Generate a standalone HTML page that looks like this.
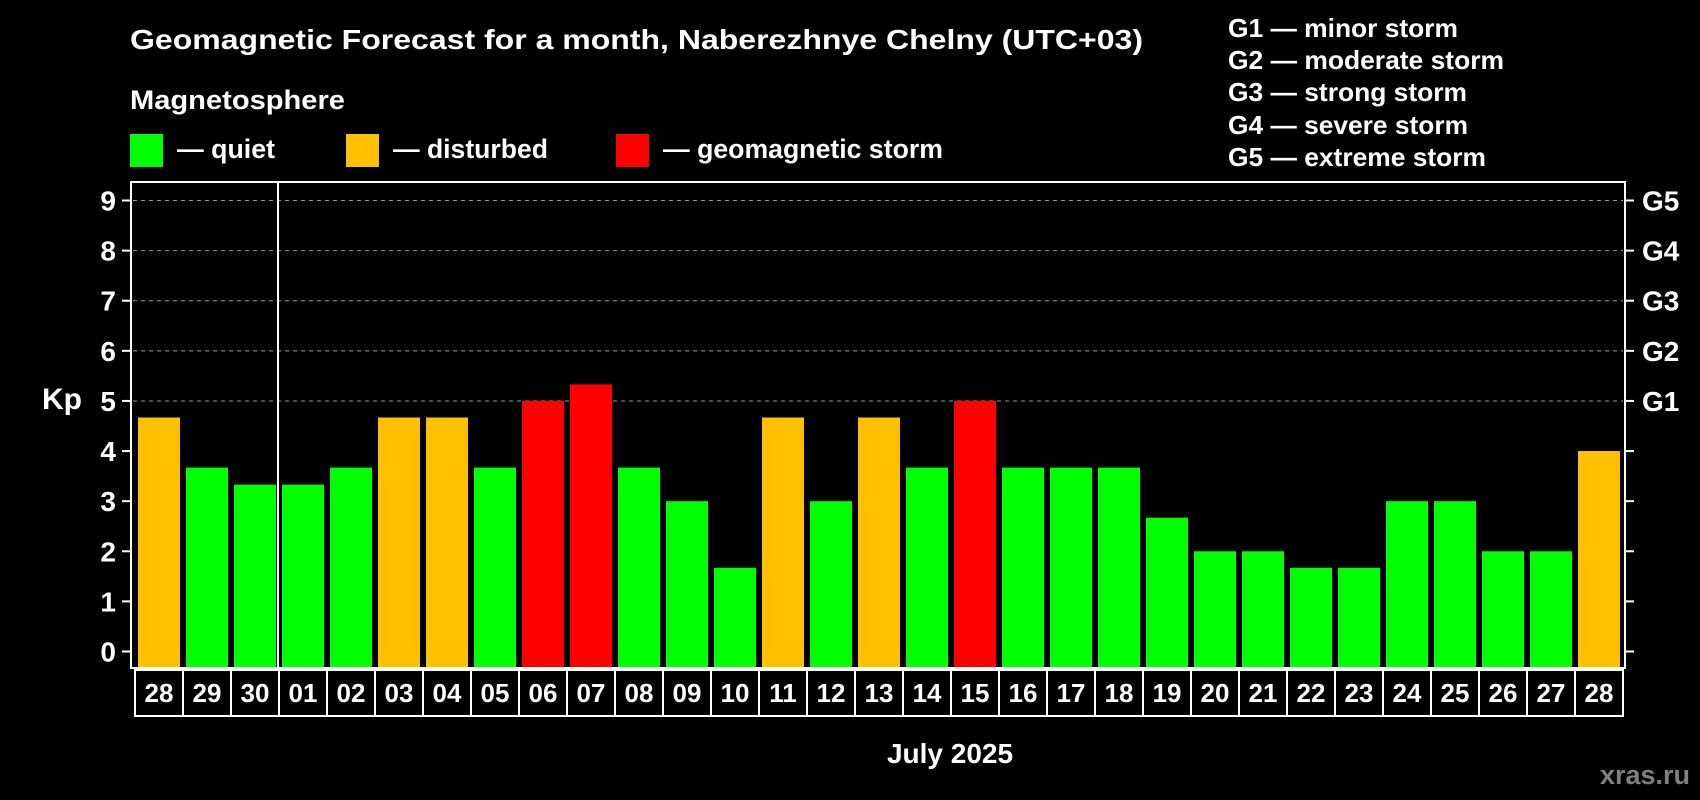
<!DOCTYPE html>
<html><head><meta charset="utf-8"><style>
html,body{margin:0;padding:0;background:#000;}
svg{display:block;font-family:"Liberation Sans",Arial,sans-serif;font-weight:bold;}
</style></head><body>
<svg id="chart" width="1700" height="800" viewBox="0 0 1700 800" xmlns="http://www.w3.org/2000/svg">
<rect width="1700" height="800" fill="#000"/>
<text x="130" y="49" fill="#fff" font-size="28" textLength="1013" lengthAdjust="spacingAndGlyphs">Geomagnetic Forecast for a month, Naberezhnye Chelny (UTC+03)</text>
<text x="130" y="109" fill="#fff" font-size="27" textLength="215" lengthAdjust="spacingAndGlyphs">Magnetosphere</text>
<rect x="130" y="134" width="33" height="33" fill="#00ff00"/>
<text x="177" y="158" fill="#fff" font-size="27" textLength="98" lengthAdjust="spacingAndGlyphs">— quiet</text>
<rect x="346" y="134" width="33" height="33" fill="#ffc000"/>
<text x="393" y="158" fill="#fff" font-size="27" textLength="155" lengthAdjust="spacingAndGlyphs">— disturbed</text>
<rect x="616" y="134" width="33" height="33" fill="#ff0000"/>
<text x="663" y="158" fill="#fff" font-size="27" textLength="280" lengthAdjust="spacingAndGlyphs">— geomagnetic storm</text>
<g fill="#fff" font-size="26">
<text x="1228" y="37" textLength="230" lengthAdjust="spacingAndGlyphs">G1 — minor storm</text>
<text x="1228" y="69" textLength="276" lengthAdjust="spacingAndGlyphs">G2 — moderate storm</text>
<text x="1228" y="101" textLength="239" lengthAdjust="spacingAndGlyphs">G3 — strong storm</text>
<text x="1228" y="134" textLength="240" lengthAdjust="spacingAndGlyphs">G4 — severe storm</text>
<text x="1228" y="166" textLength="258" lengthAdjust="spacingAndGlyphs">G5 — extreme storm</text>
</g>
<text x="42" y="409" fill="#fff" font-size="30">Kp</text>
<text x="950" y="763" fill="#fff" font-size="28" text-anchor="middle">July 2025</text>
<text x="1690" y="784" fill="#808080" font-size="27" text-anchor="end">xras.ru</text>
<g id="grid"></g><g id="bars"></g><g id="axes"></g><g id="days"></g>
</svg>
<script>
const days = ["28","29","30","01","02","03","04","05","06","07","08","09","10","11","12","13","14","15","16","17","18","19","20","21","22","23","24","25","26","27","28"];
const kpValues = [4.67,3.67,3.33,3.33,3.67,4.67,4.67,3.67,5,5.33,3.67,3,1.67,4.67,3,4.67,3.67,5,3.67,3.67,3.67,2.67,2,2,1.67,1.67,3,3,2,2,4];
const yTicks = [0,1,2,3,4,5,6,7,8,9];
const gLabels = ["G1","G2","G3","G4","G5"];
const gLevels = [5,6,7,8,9];
const NS="http://www.w3.org/2000/svg";
const L=131,R=1625,T=182,B=668,X0=135,STEP=48;
const Y0=651.5,Y9=200.5;
const yS=v=>Y0-v*(Y0-Y9)/9;
const xS=i=>X0+i*STEP;
function mk(tag,attrs,parent,txt){const e=document.createElementNS(NS,tag);for(const k in attrs)e.setAttribute(k,attrs[k]);if(txt!==undefined)e.textContent=txt;parent.appendChild(e);return e;}
const grid=document.getElementById('grid'),bars=document.getElementById('bars'),axes=document.getElementById('axes'),dayG=document.getElementById('days');
gLevels.forEach(v=>{
  const l=mk('line',{x1:L+2,x2:R-2,y1:yS(v),y2:yS(v),stroke:'#999','stroke-dasharray':'4,4','stroke-width':1},grid);
  
  
});
kpValues.forEach((v,i)=>{
  const c=v>=5?'#ff0000':(v>=4?'#ffc000':'#00ff00');
  const r=mk('rect',{x:xS(i)+3,y:yS(v),width:42,height:B-yS(v),fill:c},bars);
  
  
});
const frame=mk('rect',{x:L,y:T,width:R-L,height:B-T,fill:'none',stroke:'#fff','stroke-width':2},axes);


const sep=mk('line',{x1:xS(3)-1,x2:xS(3)-1,y1:T,y2:B,stroke:'#fff','stroke-width':2},axes);


yTicks.forEach(v=>{
  const y=yS(v);
  const t=mk('line',{x1:L-9,x2:L,y1:y,y2:y,stroke:'#fff','stroke-width':2},axes);
  
  
  const t2=mk('line',{x1:R,x2:R+9,y1:y,y2:y,stroke:'#fff','stroke-width':2},axes);
  
  
  const lb=mk('text',{x:L-15,y:y+10,fill:'#fff','font-size':28,'text-anchor':'end'},axes,String(v));
  
  
});
gLevels.forEach((v,i)=>{
  const lb=mk('text',{x:R+17,y:yS(v)+10,fill:'#fff','font-size':28},axes,gLabels[i]);
  
  
});
days.forEach((d,i)=>{
  const c=mk('rect',{x:xS(i),y:670,width:STEP,height:46,fill:'#000',stroke:'#fff','stroke-width':2},dayG);
  
  
  const t=mk('text',{x:xS(i)+STEP/2,y:702,fill:'#fff','font-size':26,'text-anchor':'middle'},dayG,d);
  
  
});
</script>
</body></html>
